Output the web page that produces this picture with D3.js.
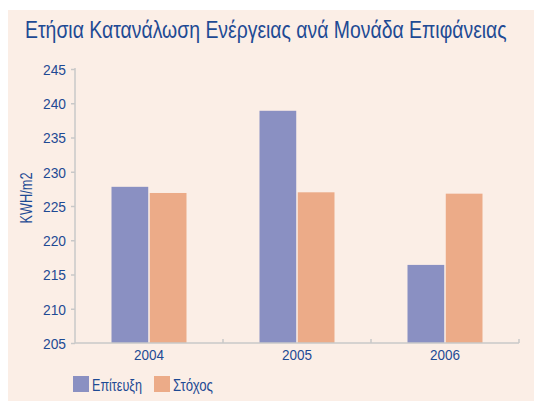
<!DOCTYPE html>
<html><head><meta charset="utf-8">
<script src="https://cdn.jsdelivr.net/npm/d3@7/dist/d3.min.js"></script>
<style>
body{margin:0;background:#fff;}
svg text{font-family:"Liberation Sans",Arial,sans-serif;}
</style></head>
<body><svg id="c" width="534" height="401"></svg>
<script>
const categories = ["2004","2005","2006"];
const seriesNames = ["Επίτευξη","Στόχος"];
const achieved = [227.8, 238.9, 216.4];
const target = [226.9, 227.0, 226.8];
const yTicks = [205,210,215,220,225,230,235,240,245];
const colors = ["#8a90c2","#ecab88"];
const textColor = "#1e4a94";

const svg = d3.select("#c");
svg.append("rect").attr("x",8).attr("y",10).attr("width",526).attr("height",391).attr("fill","#fbeee6");

// helper: place text condensed to a target width via transform
function condensed(parent, txt, x, y, size, width, anchor, rot){
  const t = parent.append("text").attr("font-size",size).attr("fill",textColor)
    .attr("text-anchor",anchor||"start").text(txt);
  const w = t.node().getComputedTextLength();
  const s = width / w;
  t.attr("transform",`translate(${x},${y})${rot?` rotate(${rot})`:""} scale(${s},1)`);
  return t;
}

condensed(svg,"Ετήσια Κατανάλωση Ενέργειας ανά Μονάδα Επιφάνειας",25,38,23,482);

const y = d3.scaleLinear().domain([205,245]).range([343,69]);
const x = d3.scaleBand().domain(categories).range([75,519]);
const xs = d3.scaleBand().domain(seriesNames).range([0,75]).paddingInner(3/75);

const data = categories.map((c,i)=>({cat:c, vals:[achieved[i], target[i]]}));

const g = svg.append("g");
data.forEach(d=>{
  d.vals.forEach((v,j)=>{
    const x0 = x(d.cat) + (x.bandwidth()-75)/2 + xs(seriesNames[j]);
    g.append("rect").attr("x",x0).attr("width",xs.bandwidth())
      .attr("y",y(v)).attr("height",y(205)-y(v)).attr("fill",colors[j]);
  });
});

// y axis
const yAxis = svg.append("g").attr("transform","translate(75,0)")
  .call(d3.axisLeft(y).tickValues(yTicks).tickSize(4).tickPadding(5));
yAxis.select(".domain").attr("stroke","#c8c8c8").attr("stroke-width",1.5).attr("d","M0,68V343");
yAxis.selectAll(".tick line").attr("stroke","#c8c8c8").attr("stroke-width",1.5);
yAxis.selectAll(".tick text").attr("font-size",15).attr("fill",textColor)
  .attr("font-family",'"Liberation Sans",Arial,sans-serif')
  .attr("textLength",23).attr("lengthAdjust","spacingAndGlyphs").attr("dy","0.36em");

// x axis
const xAxis = svg.append("g").attr("transform","translate(0,343)")
  .call(d3.axisBottom(x).tickSize(0).tickPadding(6));
xAxis.select(".domain").attr("stroke","#c8c8c8").attr("stroke-width",1.5).attr("d","M75,0H519");
xAxis.selectAll(".tick text").attr("font-size",15).attr("fill",textColor)
  .attr("font-family",'"Liberation Sans",Arial,sans-serif')
  .attr("textLength",30).attr("lengthAdjust","spacingAndGlyphs");
const seps = categories.slice(1).map(c=>x(c)).concat([x.range()[1]]);
xAxis.selectAll(".sep").data(seps).enter().append("line")
  .attr("x1",d=>d).attr("x2",d=>d).attr("y1",0).attr("y2",-4)
  .attr("stroke","#c8c8c8").attr("stroke-width",1.5);

// y title
condensed(svg,"KWH/m2",32,198,16,51,"middle",-90);

// legend
const leg = svg.append("g");
const legX = [73,154];
const legW = [50,40];
seriesNames.forEach((s,i)=>{
  leg.append("rect").attr("x",legX[i]).attr("y",376).attr("width",16).attr("height",16).attr("fill",colors[i]);
  condensed(leg,s,legX[i]+19,391,16,legW[i]);
});
</script></body></html>
